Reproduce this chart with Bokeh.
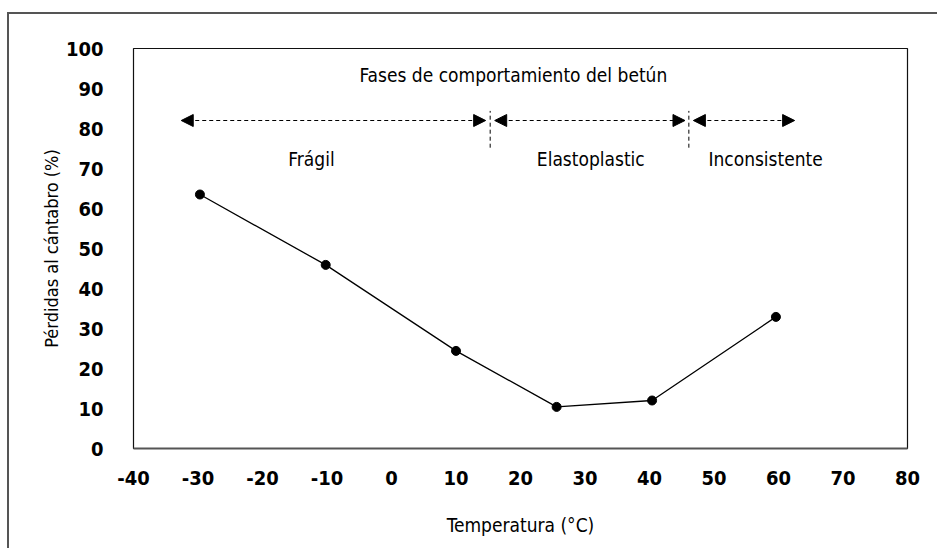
from bokeh.plotting import figure
from bokeh.models import (ColumnDataSource, Arrow, NormalHead, Range1d, FixedTicker)
from bokeh.core.properties import value
from bokeh.embed import file_html
from bokeh.resources import INLINE

# ---------------- data ----------------
temperature = [-29.7, -10.2, 10.0, 25.6, 40.4, 59.6]
losses = [63.5, 45.9, 24.4, 10.4, 12.0, 32.9]

x_ticks = [-40, -30, -20, -10, 0, 10, 20, 30, 40, 50, 60, 70, 80]
x_tick_labels = ["-40", "-30", "-20", "-10", "0", "10", "20", "30", "40",
                 "50", "60", "70", "80"]
y_ticks = [0, 10, 20, 30, 40, 50, 60, 70, 80, 90, 100]

phase_names = ["Frágil", "Elastoplastic", "Inconsistente"]
phase_start = [-32.6, 16.0, 46.8]
phase_end = [14.6, 45.5, 62.5]
phase_label_x = [-12.4, 30.9, 58.0]
phase_label_y = [72.5, 72.5, 72.5]
phase_arrow_y = [82.0, 82.0, 82.0]
phase_boundaries = [15.3, 46.1]
boundary_low = [75.2, 75.2]
boundary_high = [84.4, 84.4]

phases_title = "Fases de comportamiento del betún"
phases_title_x = [18.9]
phases_title_y = [93.3]

x_title = "Temperatura (°C)"
y_title = "Pérdidas al cántabro (%)"

FONT = "DejaVu Sans Condensed"

# ---------------- figure ----------------
p = figure(width=930, height=536,
           x_range=Range1d(-40, 80), y_range=Range1d(0, 100),
           output_backend="svg", toolbar_location=None,
           min_border_left=124, min_border_right=32,
           min_border_top=34, min_border_bottom=102)
p.styles = {"margin-top": "12px", "margin-left": "7px",
            "border-top": "2px solid #555555",
            "border-left": "2px solid #555555"}
p.background_fill_color = "white"
p.border_fill_color = "white"
p.outline_line_color = "#111111"
p.outline_line_width = 1.2
p.xgrid.visible = False
p.ygrid.visible = False

# x axis
p.xaxis.ticker = FixedTicker(ticks=x_ticks)
p.xaxis.major_label_overrides = {t: s for t, s in zip(x_ticks, x_tick_labels)}
p.xaxis.major_tick_line_color = None
p.xaxis.major_tick_out = 0
p.xaxis.major_tick_in = 0
p.xaxis.minor_tick_line_color = None
p.xaxis.axis_line_color = "#555555"
p.xaxis.axis_line_width = 2
p.xaxis.major_label_standoff = 22
p.xaxis.major_label_text_font = FONT
p.xaxis.major_label_text_font_size = "20px"
p.xaxis.major_label_text_font_style = "bold"
p.xaxis.major_label_text_color = "black"
p.xaxis.axis_label = x_title
p.xaxis.axis_label_standoff = 26
p.xaxis.axis_label_text_font = FONT
p.xaxis.axis_label_text_font_size = "19px"
p.xaxis.axis_label_text_font_style = "normal"
p.xaxis.axis_label_text_color = "black"

# y axis
p.yaxis.ticker = FixedTicker(ticks=y_ticks)
p.yaxis.major_tick_line_color = None
p.yaxis.major_tick_out = 0
p.yaxis.major_tick_in = 0
p.yaxis.minor_tick_line_color = None
p.yaxis.axis_line_color = None
p.yaxis.major_label_standoff = 30
p.yaxis.major_label_text_font = FONT
p.yaxis.major_label_text_font_size = "20px"
p.yaxis.major_label_text_font_style = "bold"
p.yaxis.major_label_text_color = "black"
p.yaxis.axis_label = y_title
p.yaxis.axis_label_standoff = 1
p.yaxis.axis_label_text_font = FONT
p.yaxis.axis_label_text_font_size = "18px"
p.yaxis.axis_label_text_font_style = "normal"
p.yaxis.axis_label_text_color = "black"

# data series
p.line(temperature, losses, line_color="black", line_width=1.3)
p.scatter(temperature, losses, size=9, fill_color="black", line_color="black")

# phase arrows
arrow_src = ColumnDataSource(dict(x0=phase_start, x1=phase_end, y=phase_arrow_y))
p.add_layout(Arrow(x_start="x0", y_start="y", x_end="x1", y_end="y", source=arrow_src,
                   line_color="black", line_width=1, line_dash="4 3",
                   start=NormalHead(size=12, fill_color="black", line_color="black"),
                   end=NormalHead(size=12, fill_color="black", line_color="black")))

# phase boundaries
p.segment(x0=phase_boundaries, y0=boundary_low, x1=phase_boundaries, y1=boundary_high,
          line_color="black", line_width=1, line_dash="4 3")

# phase labels and heading
lab_src = ColumnDataSource(dict(x=phase_label_x, y=phase_label_y, text=phase_names))
p.text(x="x", y="y", text="text", source=lab_src,
       text_font=value(FONT), text_font_size="19px", text_color="black",
       text_align="center", text_baseline="middle")
p.text(x=phases_title_x, y=phases_title_y, text=[phases_title],
       text_font=value(FONT), text_font_size="19px", text_color="black",
       text_align="center", text_baseline="middle")

open("out.html", "w").write(file_html(p, INLINE))
